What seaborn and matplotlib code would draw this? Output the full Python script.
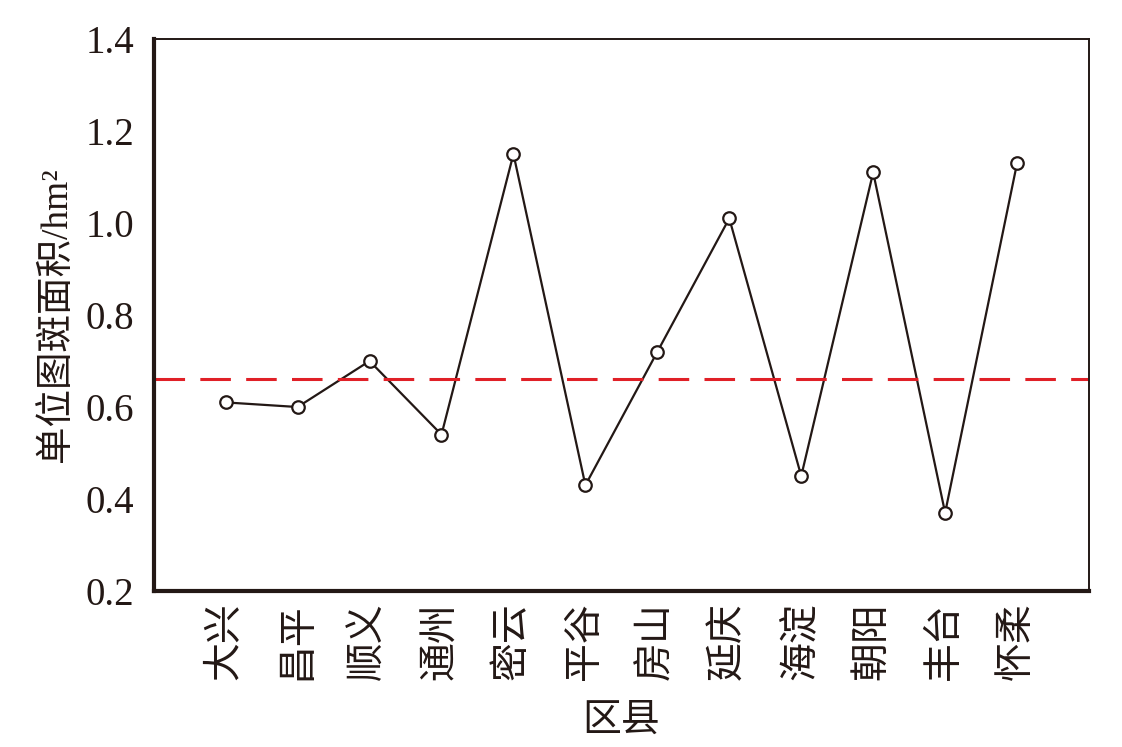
import pandas as pd
import seaborn as sns
import matplotlib.pyplot as plt

# data
districts = ['大兴', '昌平', '顺义', '通州', '密云', '平谷', '房山', '延庆', '海淀', '朝阳', '丰台', '怀柔']
unit_area = [0.61, 0.60, 0.70, 0.54, 1.15, 0.43, 0.72, 1.01, 0.45, 1.11, 0.37, 1.13]
mean_line = 0.66

df = pd.DataFrame({'district': districts, 'area': unit_area})

sns.set_style('white')
plt.rcParams['font.family'] = ['Liberation Serif', 'Noto Sans CJK SC']
dark = '#231815'

fig = plt.figure(figsize=(11.22, 7.47), dpi=100)
ax = fig.add_axes([0.137, 0.2088, 0.8336, 0.739])

sns.lineplot(data=df, x='district', y='area', sort=False, color=dark,
             linewidth=1.6, marker='o', markersize=9, markerfacecolor='white',
             markeredgecolor=dark, markeredgewidth=1.6, ax=ax)
ax.axhline(mean_line, color='#e02027', linewidth=2.2, dashes=(10, 5))

ax.set_xlim(-1, 12)
ax.set_ylim(0.2, 1.4)
ax.set_yticks([0.2, 0.4, 0.6, 0.8, 1.0, 1.2, 1.4])
ax.set_yticklabels(['0.2', '0.4', '0.6', '0.8', '1.0', '1.2', '1.4'])

for side in ['left', 'bottom']:
    ax.spines[side].set_linewidth(3)
for side in ['top', 'right']:
    ax.spines[side].set_linewidth(1.4)
for s in ax.spines.values():
    s.set_color(dark)
    s.set_visible(True)

ax.tick_params(axis='both', direction='in', length=8, width=2.5, color=dark,
               labelsize=28, labelcolor=dark)
ax.tick_params(axis='y', pad=14)
ax.tick_params(axis='x', pad=8)
for lab in ax.get_xticklabels():
    lab.set_rotation(90)
    lab.set_fontsize(28)

ax.set_xlabel('区县', fontsize=28, color=dark, va='center')
ax.xaxis.set_label_coords(0.5, -0.236)
ax.set_ylabel('单位图斑面积/hm²', fontsize=27, color=dark, va='center')
ax.yaxis.set_label_coords(-0.104, 0.5)

fig.savefig('out.png', dpi=100)
